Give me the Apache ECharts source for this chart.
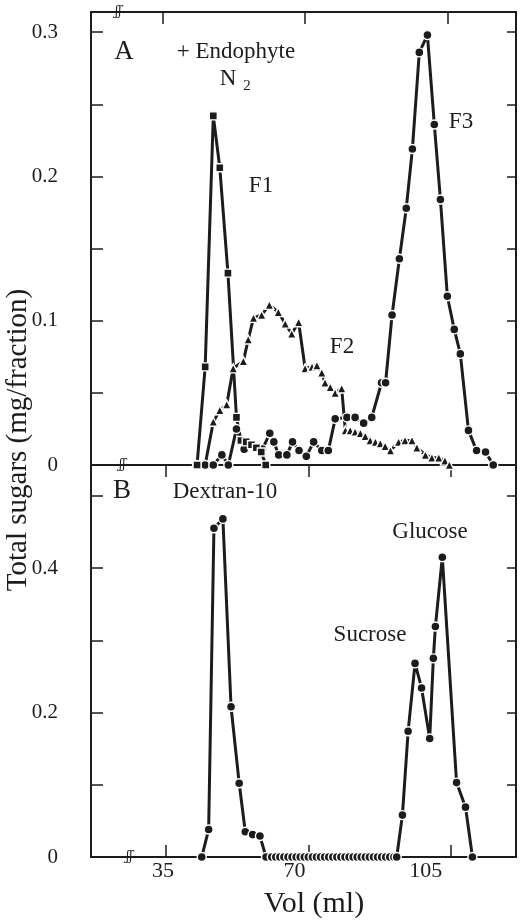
<!DOCTYPE html>
<html><head><meta charset="utf-8">
<script src="https://cdn.jsdelivr.net/npm/echarts@6/dist/echarts.min.js"></script>
<style>html,body{margin:0;padding:0;background:#fff}#c{width:520px;height:922px}</style>
</head><body><div id="c"></div>
<script>
// ---- Panel A (+ Endophyte, N2) ----
const f1Vol = [43.4, 45.4, 47.4, 49.0, 51.0, 53.1, 54.2, 55.5, 56.8, 58.0, 59.2, 60.3];
const f1Val = [0, 0.068, 0.242, 0.206, 0.133, 0.033, 0.017, 0.016, 0.014, 0.012, 0.009, 0];

const f2Vol = [45.4, 47.4, 49.0, 50.7, 52.3, 54.8, 56.0, 57.3, 59.3, 61.2, 63.4, 65.1, 66.7, 68.4, 70.0, 71.7, 72.9, 74.1, 74.9, 76.2, 77.4, 79.0, 79.9, 81.1, 82.3, 83.6, 84.8, 86.0, 87.3, 88.5, 89.7, 91.0, 93.0, 94.6, 96.3, 97.5, 99.6, 101.2, 102.9, 104.4, 105.5];
const f2Val = [0, 0.030, 0.038, 0.042, 0.067, 0.072, 0.087, 0.102, 0.104, 0.111, 0.106, 0.098, 0.091, 0.099, 0.067, 0.068, 0.069, 0.064, 0.057, 0.054, 0.050, 0.053, 0.024, 0.024, 0.023, 0.022, 0.020, 0.017, 0.016, 0.015, 0.013, 0.010, 0.016, 0.017, 0.017, 0.012, 0.007, 0.005, 0.005, 0.003, 0];

const f3Vol = [43.4, 45.4, 47.4, 49.5, 51.1, 53.1, 55.0, 57.0, 59.5, 61.3, 62.3, 63.5, 65.5, 66.9, 68.5, 70.3, 72.1, 74.1, 75.7, 77.4, 80.3, 82.3, 84.4, 86.4, 88.8, 89.8, 91.4, 93.2, 94.9, 96.4, 98.1, 100.1, 101.8, 103.3, 105.0, 106.7, 108.2, 110.2, 112.2, 114.4, 116.3];
const f3Val = [0, 0, 0, 0.007, 0, 0.025, 0.011, 0.014, 0.011, 0.022, 0.016, 0.007, 0.007, 0.016, 0.010, 0.006, 0.016, 0.010, 0.010, 0.032, 0.033, 0.033, 0.029, 0.033, 0.057, 0.057, 0.104, 0.143, 0.178, 0.219, 0.286, 0.298, 0.236, 0.184, 0.117, 0.094, 0.077, 0.024, 0.010, 0.009, 0];

// ---- Panel B (standards) ----
const bVol = [43.8, 45.5, 46.8, 49.0, 51.0, 53.0, 54.5, 56.3, 58.1, 59.6, 61, 62, 63, 64, 65, 66, 67, 68, 69, 70, 71, 72, 73, 74, 75, 76, 77, 78, 79, 80, 81, 82, 83, 84, 85, 86, 87, 88, 89, 90, 91, 91.7, 93.1, 94.5, 96.2, 97.8, 99.8, 100.7, 101.2, 102.9, 106.4, 108.6, 110.3];
const bVal = [0, 0.038, 0.455, 0.468, 0.208, 0.102, 0.035, 0.031, 0.029, 0, 0, 0, 0, 0, 0, 0, 0, 0, 0, 0, 0, 0, 0, 0, 0, 0, 0, 0, 0, 0, 0, 0, 0, 0, 0, 0, 0, 0, 0, 0, 0, 0, 0.058, 0.174, 0.268, 0.234, 0.164, 0.275, 0.319, 0.415, 0.103, 0.069, 0];

// ---- Axis ticks / labels ----
const volTicks = [35, 70, 105];
const aTicks = [0, 0.05, 0.1, 0.15, 0.2, 0.25, 0.3];
const aLabels = [0, 0.1, 0.2, 0.3];
const bTicks = [0, 0.1, 0.2, 0.3, 0.4, 0.5];
const bLabels = [0, 0.2, 0.4];

const INK = '#1c1c1c';
const FONT = '"Liberation Serif","Times New Roman","DejaVu Serif",serif';
const chart = echarts.init(document.getElementById('c'), null, {renderer: 'canvas'});
const pairs = (xs, ys) => xs.map((x, i) => [x, ys[i]]);

// the printed x labels sit slightly left of their ticks in the original
const labelShift = {35: 6, 70: 28, 105: 50};

function xAx(grid, pos, min, max, opts) {
  return Object.assign({
    type: 'value', gridIndex: grid, position: pos, min: min, max: max,
    axisLine: {show: true, onZero: false, lineStyle: {color: INK, width: 2}},
    axisTick: {show: true, inside: true, length: 12, customValues: volTicks, lineStyle: {color: INK, width: 1.5}},
    axisLabel: {show: false}, splitLine: {show: false}
  }, opts || {});
}
function yAx(grid, pos, max, ticks, labels) {
  return {
    type: 'value', gridIndex: grid, position: pos, min: 0, max: max,
    axisLine: {show: true, onZero: false, lineStyle: {color: INK, width: 2}},
    axisTick: {show: true, inside: true, length: pos === 'left' ? 12 : 9, customValues: ticks, lineStyle: {color: INK, width: 1.5}},
    axisLabel: labels ? {show: true, customValues: labels, margin: 33, color: INK, fontFamily: FONT, fontSize: 21} : {show: false},
    splitLine: {show: false}
  };
}
function ser(xi, yi, xs, ys, sym, size) {
  return {
    type: 'line', xAxisIndex: xi, yAxisIndex: yi, data: pairs(xs, ys),
    symbol: sym, symbolSize: size, showAllSymbol: true, animation: false,
    lineStyle: {color: INK, width: 3},
    itemStyle: {color: INK, borderColor: '#fff', borderWidth: 1.4},
    emphasis: {disabled: true}
  };
}

chart.setOption({
  backgroundColor: '#fff',
  animation: false,
  grid: [
    {left: 91, top: 12, width: 425, height: 453},
    {left: 91, top: 465, width: 425, height: 392}
  ],
  xAxis: [
    xAx(0, 'bottom', 17.3, 121.9, {axisTick: {show: false}}),
    xAx(0, 'top', 17.3, 121.9),
    xAx(1, 'bottom', 16.6, 121.0, {
      axisLabel: {
        show: true, customValues: volTicks, margin: 3,
        formatter: v => '{t|' + v + '}',
        rich: {t: {color: INK, fontFamily: FONT, fontSize: 22}},
        color: INK, fontFamily: FONT, fontSize: 22
      }
    }),
    xAx(1, 'top', 16.6, 121.0)
  ],
  yAxis: [
    yAx(0, 'left', 0.314, aTicks, aLabels),
    yAx(0, 'right', 0.314, aTicks, null),
    yAx(1, 'left', 0.5426, bTicks, bLabels),
    yAx(1, 'right', 0.5426, bTicks, null)
  ],
  series: [
    ser(0, 0, f2Vol, f2Val, 'triangle', 9),
    ser(0, 0, f3Vol, f3Val, 'circle', 9),
    ser(0, 0, f1Vol, f1Val, 'rect', 8),
    ser(2, 2, bVol, bVal, 'circle', 9)
  ]
});
// apply the per-label left offsets
chart.setOption({xAxis: [{}, {}, {axisLabel: {formatter: v => '{t' + v + '|' + v + '}',
  rich: Object.fromEntries(volTicks.map(v => ['t' + v, {color: INK, fontFamily: FONT, fontSize: 22, padding: [0, labelShift[v], 0, 0]}]))}}, {}]});

function txt(x, y, s, size, align) {
  return {type: 'text', x: x, y: y, silent: true,
    style: {text: s, fill: INK, font: size + 'px ' + FONT, textAlign: align || 'center', textVerticalAlign: 'middle'}};
}
function brk(xi, yi, v, yv) {
  const p = chart.convertToPixel({xAxisIndex: xi, yAxisIndex: yi}, [v, yv]);
  return {type: 'text', x: p[0], y: p[1], silent: true,
    style: {text: 'ʃʃ', fill: INK, font: 'italic 12px "DejaVu Serif"', textAlign: 'center', textVerticalAlign: 'middle',
      backgroundColor: '#fff'}};
}
chart.setOption({
  graphic: [
    txt(124, 52, 'A', 27),
    txt(236, 52, '+ Endophyte', 23),
    txt(228, 79, 'N', 23),
    txt(247, 86, '2', 15),
    txt(261, 186, 'F1', 23),
    txt(342, 347, 'F2', 23),
    txt(461, 122, 'F3', 23),
    txt(122, 491, 'B', 27),
    txt(225, 492, 'Dextran-10', 23),
    txt(430, 532, 'Glucose', 23),
    txt(370, 635, 'Sucrose', 23),
    txt(314, 904, 'Vol (ml)', 30),
    {type: 'text', x: 18, y: 440, rotation: Math.PI / 2, silent: true,
      style: {text: 'Total sugars (mg/fraction)', fill: INK, font: '29px ' + FONT, textAlign: 'center', textVerticalAlign: 'middle'}},
    brk(1, 1, 24.0, 0.314),
    brk(0, 0, 25.0, 0),
    brk(2, 2, 26.0, 0)
  ]
});
</script></body></html>
